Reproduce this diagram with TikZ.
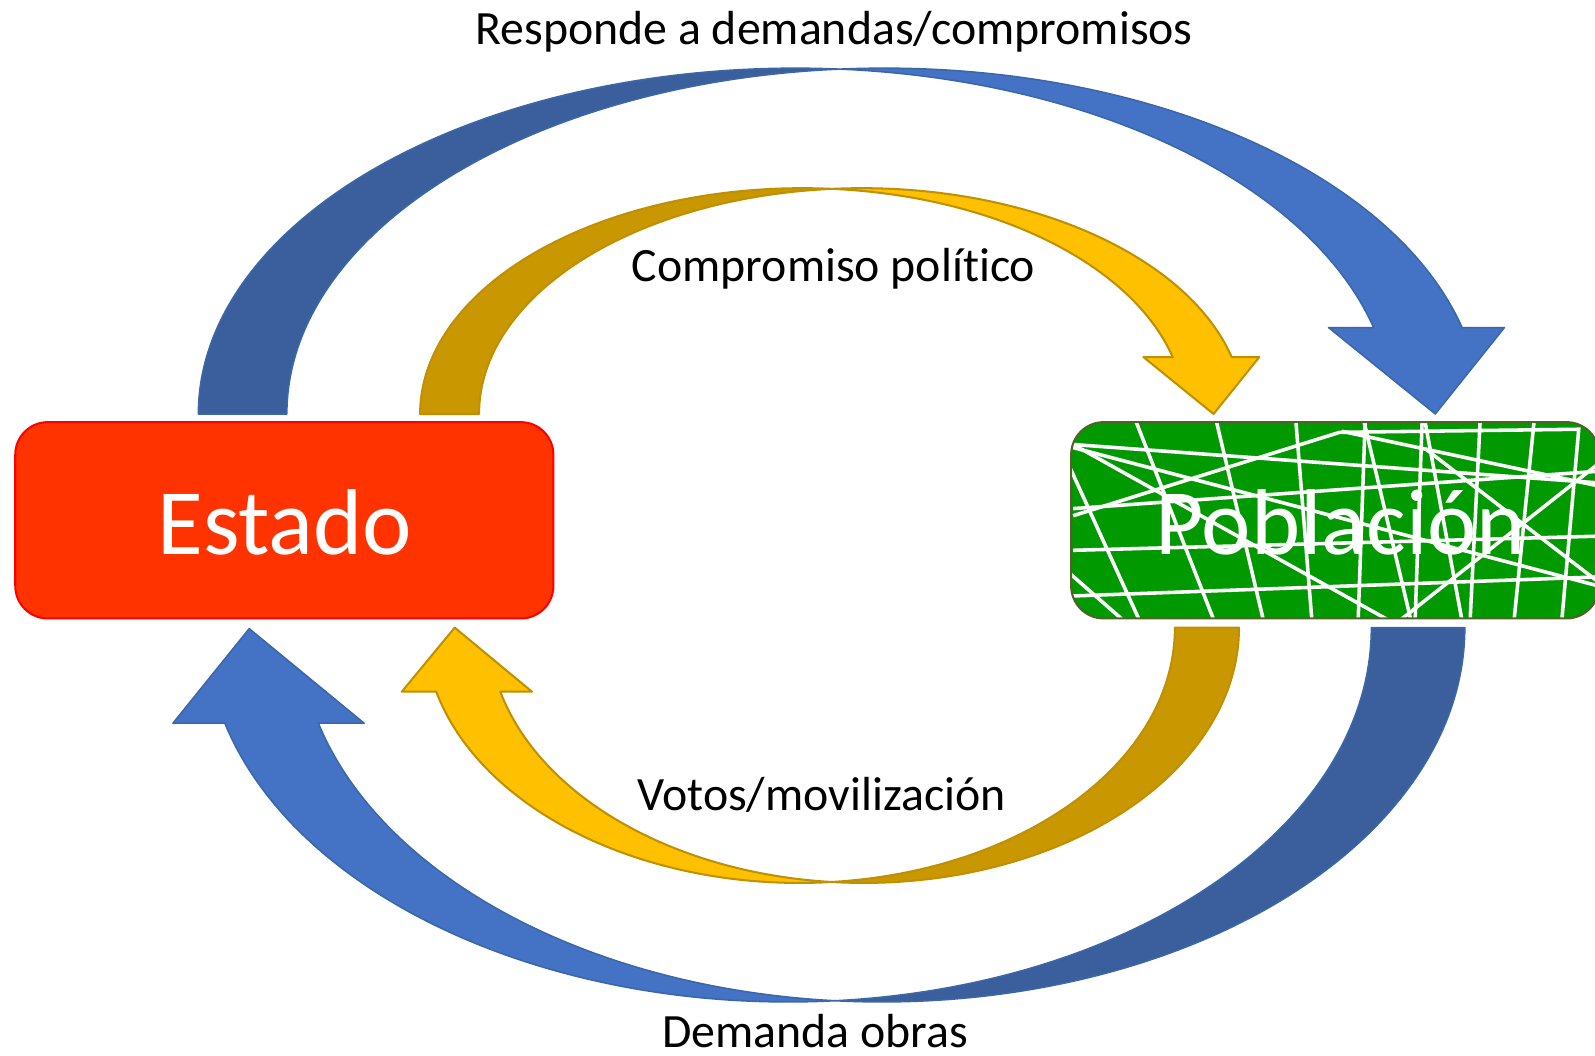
\documentclass[tikz,border=0pt]{standalone}
\usepackage{fontspec}
\setmainfont{Carlito}[Ligatures=NoCommon]
\usetikzlibrary{calc}
\definecolor{bluelt}{HTML}{4472C4}
\definecolor{bluedk}{HTML}{3A5F9C}
\definecolor{bluestroke}{HTML}{3B67A8}
\definecolor{goldlt}{HTML}{FFC000}
\definecolor{golddk}{HTML}{C99700}
\definecolor{goldstroke}{HTML}{BF9000}
\definecolor{estadofill}{HTML}{FF3300}
\definecolor{estadodraw}{HTML}{FF0000}
\definecolor{pobfill}{HTML}{009900}
\definecolor{pobdraw}{HTML}{4F6228}
\begin{document}
\begin{tikzpicture}[x=1pt,y=1pt,
  bluefront/.style={fill=bluelt,draw=bluestroke,line width=1.5pt,line join=round},
  blueback/.style={fill=bluedk,draw=bluestroke,line width=1.5pt,line join=round},
  goldfront/.style={fill=goldlt,draw=goldstroke,line width=2pt,line join=round},
  goldback/.style={fill=golddk,draw=goldstroke,line width=2pt,line join=round},
  boxshape/.style={rectangle,rounded corners=32pt,inner sep=0pt,minimum height=193pt},
  bigtext/.style={text=white,font=\fontsize{92}{110}\selectfont,anchor=base,inner sep=0pt},
  lbl/.style={text=black,font=\fontsize{47}{56}\selectfont,anchor=base,inner sep=0pt},
  netline/.style={white,line width=3.5pt}
]
\useasboundingbox (0,0) rectangle (1568,1038);
\fill[white] (0,0) rectangle (1568,1038);

% ---- top blue arrow (Responde ...)
\path[blueback] (195,631)
  arc[start angle=180,end angle=85.75,x radius=587,y radius=340]
  arc[start angle=94.25,end angle=180,x radius=587,y radius=340] -- cycle;
\path[bluefront] ($(869,631)+(94.25:587 and 340)$)
  arc[start angle=94.25,end angle=14.48,x radius=587,y radius=340]
  -- (1479,716) -- (1411,631) -- (1306,716)
  -- ($(782,631)+(14.48:587 and 340)$)
  arc[start angle=14.48,end angle=85.75,x radius=587,y radius=340] -- cycle;

% ---- top gold arrow (Compromiso politico)
\path[goldback] (413,631)
  arc[start angle=180,end angle=85.58,x radius=376,y radius=222]
  arc[start angle=94.42,end angle=180,x radius=376,y radius=222] -- cycle;
\path[goldfront] ($(847,631)+(94.42:376 and 222)$)
  arc[start angle=94.42,end angle=14.61,x radius=376,y radius=222]
  -- (1238,687) -- (1193,631) -- (1124,687)
  -- ($(789,631)+(14.61:376 and 222)$)
  arc[start angle=14.61,end angle=85.58,x radius=376,y radius=222] -- cycle;

% ---- bottom blue arrow (Demanda obras)
\path[blueback] (1440,421)
  arc[start angle=0,end angle=-94.6,x radius=573,y radius=368]
  arc[start angle=-85.4,end angle=0,x radius=573,y radius=368] -- cycle;
\path[bluefront] ($(775,421)+(-85.4:573 and 368)$)
  arc[start angle=-85.4,end angle=-165.2,x radius=573,y radius=368]
  -- (170,327) -- (245,420) -- (358,327)
  -- ($(867,421)+(-165.2:573 and 368)$)
  arc[start angle=-165.2,end angle=-94.6,x radius=573,y radius=368] -- cycle;

% ---- bottom gold arrow (Votos/movilizacion)
\path[goldback] (1218,421)
  arc[start angle=0,end angle=-94.9,x radius=369,y radius=251]
  arc[start angle=-85.1,end angle=0,x radius=369,y radius=251] -- cycle;
\path[goldfront] ($(786,421)+(-85.1:369 and 251)$)
  arc[start angle=-85.1,end angle=-165.46,x radius=369,y radius=251]
  -- (395,358) -- (447,421) -- (523,358)
  -- ($(849,421)+(-165.46:369 and 251)$)
  arc[start angle=-165.46,end angle=-94.9,x radius=369,y radius=251] -- cycle;

% ---- Estado box
\node[boxshape,minimum width=529pt,fill=estadofill,draw=estadodraw,line width=2pt] (estado) at (279.5,526.5) {};
\node[bigtext] (estadotxt) at (280,493) {Estado};

% ---- Poblacion box
\node[boxshape,minimum width=519pt,fill=pobfill] (pob) at (1312.5,526.5) {};
\begin{scope}
  \clip[rounded corners=32pt] (1053,430) rectangle (1572,623);
  \draw[netline] (1117,623) -- (1195,424);
  \draw[netline] (1196,623) -- (1243,424);
  \draw[netline] (1055,601) -- (1575,563);
  \draw[netline,line join=miter] (1055,531) -- (1317,613) -- (1552,616) -- (1535,424);
  \draw[netline] (1052,578) -- (1122,424);
  \draw[netline] (1055,497) -- (1575,511);
  \draw[netline] (1052,452) -- (1575,471);
  \draw[netline] (1052,474) -- (1109,424);
  \draw[netline] (1274,623) -- (1290,424);
  \draw[netline] (1341,623) -- (1388,424);
  \draw[netline] (1401,623) -- (1438,424);
  \draw[netline] (1455,623) -- (1445,424);
  \draw[netline] (1508,623) -- (1488,424);
  \draw[netline] (1575,585) -- (1371,424);
  \draw[netline] (1055,601) -- (1371,425);
  \draw[netline] (1055,538) -- (1575,575);
  \draw[netline] (1055,598) -- (1575,461);
  \draw[netline] (1319,614) -- (1568,561);
  \draw[netline] (1401,597) -- (1575,463);
  \draw[netline] (1342,623) -- (1335,424);
  \draw[netline] (1398,623) -- (1391,424);
\end{scope}
\draw[pobdraw,line width=2pt,rounded corners=32pt] (1053,430) rectangle (1572,623);
\node[bigtext] (pobtxt) at (1318,493) {Población};

% ---- labels
\node[lbl] (l1) at (820,994) {Responde a demandas/compromisos};
\node[lbl] (l2) at (819.5,761) {Compromiso polít\kern0pt{}ico};
\node[lbl] (l3) at (807.5,241) {Votos/movilización};
\node[lbl] (l4) at (801.5,8) {Demanda obras};
\end{tikzpicture}
\end{document}
